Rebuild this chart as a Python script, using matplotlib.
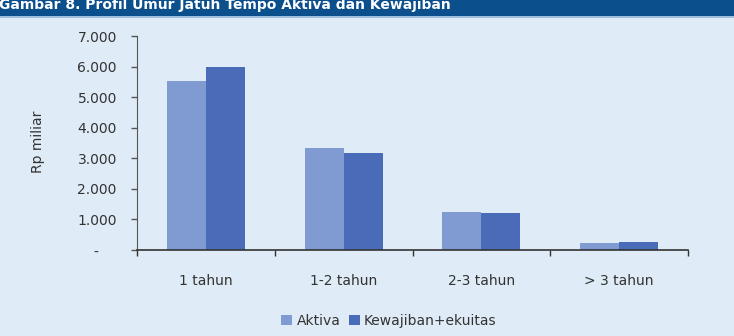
import matplotlib
matplotlib.use('Agg')
import matplotlib.pyplot as plt
import numpy as np
from matplotlib.ticker import FuncFormatter

# values in Rp miliar
categories = ['1 tahun', '1-2 tahun', '2-3 tahun', '> 3 tahun']
aktiva = [5530, 3330, 1250, 230]
kewajiban = [6000, 3190, 1200, 270]
series_names = ['Aktiva', 'Kewajiban+ekuitas']
title = 'Gambar 8. Profil Umur Jatuh Tempo Aktiva dan Kewajiban'

bg = '#dfebf6'
c_akt = '#7f9bd1'
c_kew = '#4a6bb7'
txt = '#333333'

plt.rcParams['font.family'] = 'DejaVu Sans'

fig = plt.figure(figsize=(7.34, 3.36), dpi=100, facecolor=bg)
ax = fig.add_axes([137 / 734, 1 - 250 / 336, 551 / 734, (250 - 36.3) / 336])
ax.set_facecolor(bg)

x = np.arange(len(categories))
width = 0.283
b1 = ax.bar(x - width / 2, aktiva, width, color=c_akt, label=series_names[0])
b2 = ax.bar(x + width / 2, kewajiban, width, color=c_kew, label=series_names[1])

ax.set_xlim(-0.5, len(categories) - 0.5)
ax.set_ylim(0, 7000)
ax.set_yticks(np.arange(0, 7001, 1000))


def fmt(v, pos):
    if v == 0:
        return '-    '
    return '{:,.0f}'.format(v).replace(',', '.')


ax.yaxis.set_major_formatter(FuncFormatter(fmt))
ax.tick_params(axis='y', length=4.5, width=1, color='#555555', pad=10,
               labelsize=10, labelcolor=txt)

ax.set_xticks(x)
ax.set_xticklabels(categories)
ax.set_xticks(np.arange(-0.5, len(categories)), minor=True)
ax.tick_params(axis='x', which='major', length=0, pad=17, labelsize=10, labelcolor=txt)
ax.tick_params(axis='x', which='minor', length=4, width=1, color='#333333')

for s in ['top', 'right']:
    ax.spines[s].set_visible(False)
ax.spines['left'].set_color('#555555')
ax.spines['bottom'].set_color('#333333')
ax.spines['bottom'].set_linewidth(1.2)

ax.set_ylabel('Rp miliar', fontsize=10, color=txt)
ax.yaxis.set_label_coords(-0.167, 0.505)

leg = fig.legend(loc='center', bbox_to_anchor=(0.53, 1 - 321 / 336), ncol=2,
                 frameon=False, fontsize=10, handlelength=0.8, handleheight=0.8,
                 handletextpad=0.3, columnspacing=0.6)
for t in leg.get_texts():
    t.set_color(txt)

# title bar at the top (cut off in the reference)
fig.patches.append(plt.Rectangle((0, 1 - 16 / 336), 1, 16 / 336, transform=fig.transFigure,
                                 facecolor='#0b4f8d', edgecolor='none'))
fig.patches.append(plt.Rectangle((0, 1 - 18 / 336), 1, 2 / 336, transform=fig.transFigure,
                                 facecolor='#9fbedd', edgecolor='none'))
fig.text(-0.001, 1 - 8.5 / 336, title, color='white', fontsize=10, fontweight='bold',
         va='baseline', ha='left')

fig.savefig('out.png', dpi=100, facecolor=bg)
